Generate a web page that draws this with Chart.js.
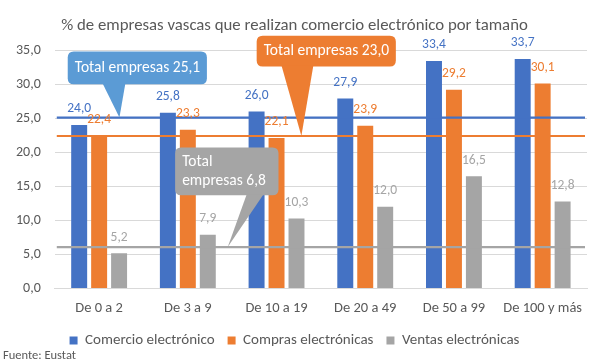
<!DOCTYPE html>
<html>
<head>
<meta charset="utf-8">
<script src="https://cdn.jsdelivr.net/npm/chart.js@4"></script>
<style>
  body { margin: 0; background: #fff; }
</style>
</head>
<body>
<canvas id="graf" width="606" height="364"></canvas>
<script>
// datos
const categorias = ['De 0 a 2', 'De 3 a 9', 'De 10 a 19', 'De 20 a 49', 'De 50 a 99', 'De 100 y más']
const comercio = [24.0, 25.8, 26.0, 27.9, 33.4, 33.7]
const compras = [22.4, 23.3, 22.1, 23.9, 29.2, 30.1]
const ventas = [5.2, 7.9, 10.3, 12.0, 16.5, 12.8]
const series = ['Comercio electrónico', 'Compras electrónicas', 'Ventas electrónicas']
const colores = ['#4472C4', '#ED7D31', '#A5A5A5']

// líneas del total de empresas (posición) y textos de los globos
const totalLineas = [25.1, 22.4, 6.1]
const totalTextos = [['Total empresas 25,1'], ['Total empresas 23,0'], ['Total', 'empresas 6,8']]
const globoColores = ['#5B9BD5', '#ED7D31', '#A5A5A5']
const lineaColores = ['#4472C4', '#ED7D31', '#A5A5A5']

const fuente = 'Fuente: Eustat'
const FONT = 'Carlito, Calibri, Lato, sans-serif'

const fmt = v => v.toFixed(1).replace('.', ',')

// globos: caja y punta en unidades del gráfico (índice de categoría, valor)
const globos = [
  { box: [-0.354, 1.215, 34.8, 30.0], base: [0.038, 0.296], tip: 0.229 },
  { box: [1.776, 3.345, 37.1, 32.6], base: [2.056, 2.415], tip: 2.28 },
  { box: [0.857, 2.022, 20.7, 13.7], base: [1.664, 1.854], tip: 1.45 }
]

function roundRect(ctx, x, y, w, h, r) {
  ctx.moveTo(x + r, y)
  ctx.lineTo(x + w - r, y)
  ctx.quadraticCurveTo(x + w, y, x + w, y + r)
  ctx.lineTo(x + w, y + h - r)
  ctx.quadraticCurveTo(x + w, y + h, x + w - r, y + h)
  ctx.lineTo(x + r, y + h)
  ctx.quadraticCurveTo(x, y + h, x, y + h - r)
  ctx.lineTo(x, y + r)
  ctx.quadraticCurveTo(x, y, x + r, y)
}

const extras = {
  id: 'extras',
  afterDatasetsDraw(chart) {
    const ctx = chart.ctx
    const xs = chart.scales.x
    const ys = chart.scales.y
    const area = chart.chartArea
    ctx.save()

    // líneas de totales
    totalLineas.forEach((v, i) => {
      const y = ys.getPixelForValue(v)
      ctx.strokeStyle = lineaColores[i]
      ctx.lineWidth = 2.2
      ctx.beginPath()
      ctx.moveTo(area.left + 2, y)
      ctx.lineTo(area.right - 2, y)
      ctx.stroke()
    })

    // etiquetas de datos
    ctx.font = '13.5px ' + FONT
    ctx.textAlign = 'center'
    ctx.textBaseline = 'middle'
    chart.data.datasets.forEach((ds, i) => {
      const meta = chart.getDatasetMeta(i)
      ctx.fillStyle = colores[i]
      meta.data.forEach((el, j) => {
        ctx.fillText(fmt(ds.data[j]), el.x, el.y - 16)
      })
    })

    // globos
    globos.forEach((g, i) => {
      const x0 = xs.getPixelForValue(g.box[0])
      const x1 = xs.getPixelForValue(g.box[1])
      const y0 = ys.getPixelForValue(g.box[2])
      const y1 = ys.getPixelForValue(g.box[3])
      const bx0 = xs.getPixelForValue(g.base[0])
      const bx1 = xs.getPixelForValue(g.base[1])
      const tx = xs.getPixelForValue(g.tip)
      const ty = ys.getPixelForValue(totalLineas[i])
      ctx.fillStyle = globoColores[i]
      ctx.beginPath()
      roundRect(ctx, x0, y0, x1 - x0, y1 - y0, 6)
      ctx.fill()
      ctx.beginPath()
      ctx.moveTo(bx0, y1 - 1)
      ctx.lineTo(tx, ty)
      ctx.lineTo(bx1, y1 - 1)
      ctx.closePath()
      ctx.fill()

      ctx.fillStyle = '#fff'
      ctx.font = '15.5px ' + FONT
      ctx.textAlign = 'left'
      ctx.textBaseline = 'middle'
      const lineas = totalTextos[i]
      const alto = 19
      const cy = (y0 + y1) / 2 - (lineas.length - 1) * alto / 2
      lineas.forEach((t, k) => ctx.fillText(t, x0 + 7, cy + k * alto))
    })

    // fuente
    ctx.fillStyle = '#595959'
    ctx.font = '12.5px ' + FONT
    ctx.textAlign = 'left'
    ctx.textBaseline = 'middle'
    ctx.fillText(fuente, 3, chart.height - 8)
    ctx.restore()
  }
}

const data = {
  labels: categorias,
  datasets: [comercio, compras, ventas].map((d, i) => ({
    label: series[i],
    data: d,
    backgroundColor: colores[i],
    barPercentage: 0.8,
    categoryPercentage: 0.675
  }))
}

const config = {
  type: 'bar',
  data: data,
  options: {
    responsive: false,
    animation: false,
    layout: { padding: { left: 2, right: 19, top: 0, bottom: 6 } },
    plugins: {
      legend: {
        position: 'bottom',
        labels: {
          boxWidth: 8,
          boxHeight: 8,
          padding: 13,
          color: '#595959',
          font: { size: 15, family: FONT }
        }
      },
      title: {
        display: true,
        text: '% de empresas vascas que realizan comercio electrónico por tamaño',
        color: '#595959',
        font: { size: 16.8, weight: 'normal', family: FONT },
        padding: { top: 16, bottom: 14 }
      },
      tooltip: { enabled: false }
    },
    scales: {
      x: {
        grid: { display: false },
        border: { color: '#d9d9d9' },
        ticks: { color: '#595959', font: { size: 14.5, family: FONT }, padding: 3 }
      },
      y: {
        min: 0,
        max: 35,
        ticks: {
          stepSize: 5,
          color: '#595959',
          font: { size: 14, family: FONT },
          padding: 14,
          callback: v => fmt(v)
        },
        grid: { color: '#d9d9d9', drawTicks: false },
        border: { display: false }
      }
    }
  },
  plugins: [extras]
}

const grafico = new Chart(document.getElementById('graf').getContext('2d'), config)
</script>
</body>
</html>
